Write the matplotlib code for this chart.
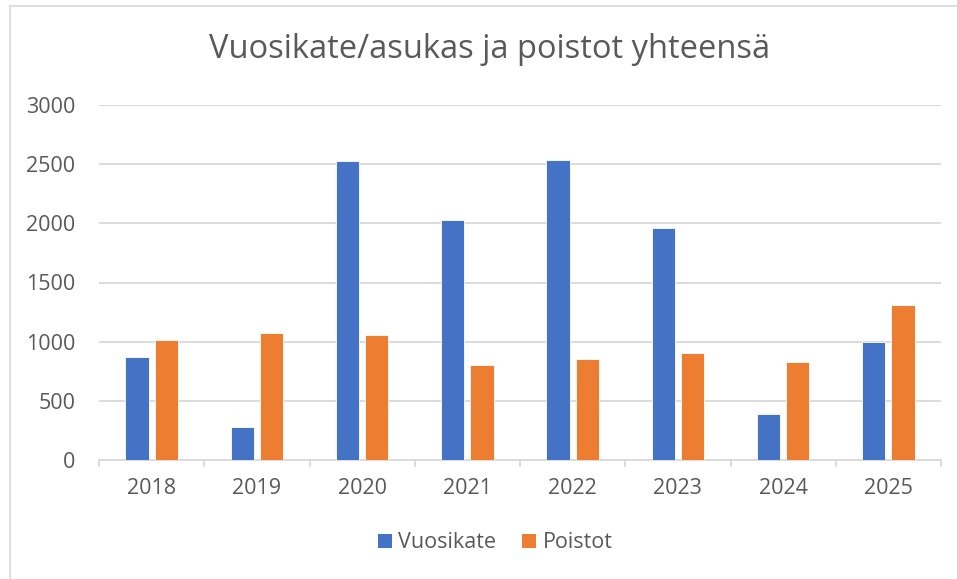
import matplotlib
matplotlib.use("Agg")
import matplotlib.pyplot as plt
from matplotlib.patches import Patch
from matplotlib.lines import Line2D
import numpy as np

years = ["2018", "2019", "2020", "2021", "2022", "2023", "2024", "2025"]
vuosikate = [867, 277, 2525, 2031, 2534, 1963, 387, 1000]
poistot = [1017, 1073, 1059, 802, 856, 901, 831, 1314]
yticks = [0, 500, 1000, 1500, 2000, 2500, 3000]
title = "Vuosikate/asukas ja poistot yhteensä"

BLUE = "#4472C4"
ORANGE = "#ED7D31"
TXT = "#595959"
GRID = "#D9D9D9"

plt.rcParams['font.family'] = ['Open Sans', 'DejaVu Sans']

W, H = 957, 579
fig = plt.figure(figsize=(W / 100, H / 100), dpi=100)

# chart border (left and top visible)
fig.add_artist(Line2D([10 / W, 10 / W], [0, 1 - 6 / H], transform=fig.transFigure, color=GRID, lw=1.2))
fig.add_artist(Line2D([10 / W, 1], [1 - 6 / H, 1 - 6 / H], transform=fig.transFigure, color=GRID, lw=1.2))

left, right, top, bottom = 99, 941, 105, 460
ax = fig.add_axes([left / W, 1 - bottom / H, (right - left) / W, (bottom - top) / H])

x = np.arange(len(years))
bw = 0.222
gap = 0.055
ax.bar(x - (bw + gap) / 2, vuosikate, width=bw, color=BLUE, edgecolor="white", linewidth=0.6, zorder=3)
ax.bar(x + (bw + gap) / 2, poistot, width=bw, color=ORANGE, edgecolor="white", linewidth=0.6, zorder=3)

ax.set_xlim(-0.5, len(years) - 0.5)
ax.set_ylim(0, 3000)
ax.set_yticks(yticks)
ax.set_yticklabels([str(v) for v in yticks])
ax.set_xticks(x)
ax.set_xticklabels(years)
ax.set_xticks(np.arange(len(years) + 1) - 0.5, minor=True)

ax.yaxis.grid(True, color=GRID, lw=1.3, zorder=0)
ax.set_axisbelow(True)
for s in ["top", "right", "left"]:
    ax.spines[s].set_visible(False)
ax.spines["bottom"].set_color(GRID)
ax.spines["bottom"].set_linewidth(1.3)

ax.tick_params(axis="y", length=0, pad=17, labelsize=15.5, labelcolor=TXT)
ax.tick_params(axis="x", which="major", length=0, pad=13, labelsize=15.5, labelcolor=TXT)
ax.tick_params(axis="x", which="minor", length=5, width=1.3, color=GRID)

fig.text(490 / W, 1 - 50 / H, title, ha="center", va="center", fontsize=23.5, color=TXT)

handles = [Patch(facecolor=BLUE, label="Vuosikate"), Patch(facecolor=ORANGE, label="Poistot")]
fig.legend(handles=handles, loc="center", bbox_to_anchor=(495 / W, 1 - 543 / H), ncol=2, frameon=False,
           fontsize=15.5, labelcolor=TXT, handlelength=0.65, handleheight=0.65, handletextpad=0.3,
           columnspacing=1.2)

fig.savefig("out.png", dpi=100)
